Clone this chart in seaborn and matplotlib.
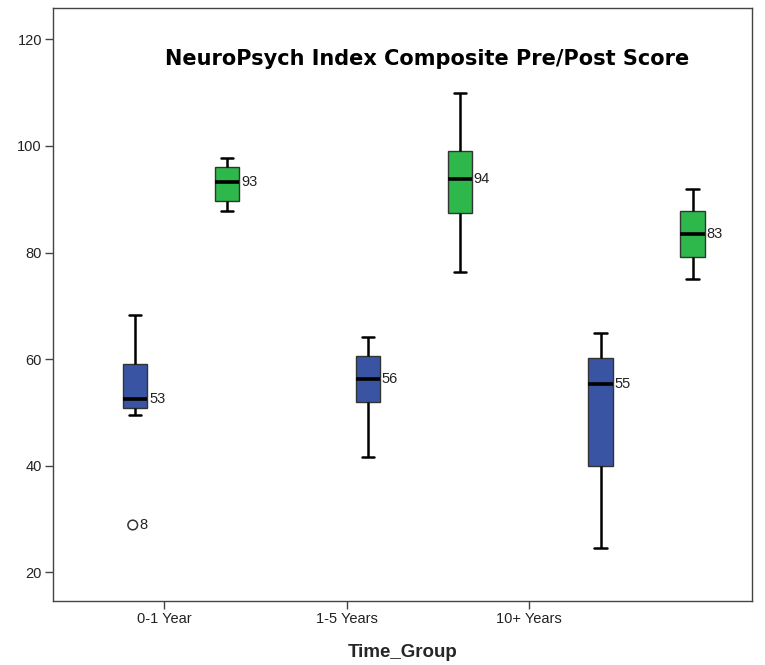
import matplotlib
matplotlib.use("Agg")
import matplotlib.pyplot as plt
import numpy as np
import pandas as pd
import seaborn as sns

# Five-number summaries per time group (whisker low, Q1, median, Q3, whisker high)
groups = ["0-1 Year", "1-5 Years", "10+ Years"]
phases = ["Pre", "Post"]

pre_low = [49.5, 41.7, 24.6]
pre_q1 = [50.8, 52.0, 40.0]
pre_med = [52.6, 56.3, 55.4]
pre_q3 = [59.0, 60.6, 60.2]
pre_high = [68.3, 64.2, 64.9]

post_low = [87.7, 76.3, 75.0]
post_q1 = [89.6, 87.5, 79.2]
post_med = [93.3, 93.8, 83.4]
post_q3 = [96.1, 99.0, 87.7]
post_high = [97.8, 110.0, 92.0]

# Outlying case (case number 8) in the 0-1 Year pre group
outlier_group = "0-1 Year"
outlier_phase = "Pre"
outlier_value = 28.9
outlier_case = "8"

tick_labels = ["0-1 Year", "1-5 Years", "10+ Years"]

rows = []
for i, g in enumerate(groups):
    for phase, arrs in (("Pre", (pre_low, pre_q1, pre_med, pre_q3, pre_high)),
                        ("Post", (post_low, post_q1, post_med, post_q3, post_high))):
        for a in arrs:
            rows.append({"Time_Group": g, "Phase": phase, "Score": a[i]})
df = pd.DataFrame(rows)

sns.set_style("white")
plt.rcParams["font.family"] = ["Liberation Sans", "DejaVu Sans"]

fig = plt.figure(figsize=(7.65, 6.65), dpi=100)
ax = fig.add_axes([0.0693, 0.0967, 0.9137, 0.8908])

palette = {"Pre": "#3A54A4", "Post": "#2EB84B"}
box_width = 0.79
box_gap = 0.734

sns.boxplot(
    data=df, x="Time_Group", y="Score", hue="Phase",
    order=groups, hue_order=phases, palette=palette,
    width=box_width, gap=box_gap, dodge=True,
    linecolor="#333333", linewidth=1.0, saturation=1,
    whiskerprops=dict(color="black", linewidth=1.8),
    capprops=dict(color="black", linewidth=1.8),
    medianprops=dict(color="black", linewidth=2.6),
    showfliers=False, legend=False, ax=ax,
)

# Median value labels beside each box
offset = box_width / 4
half_box = box_width / 2 * (1 - box_gap) / 2
for i, g in enumerate(groups):
    for j, (phase, med) in enumerate((("Pre", pre_med[i]), ("Post", post_med[i]))):
        xpos = i + (2 * j - 1) * offset + half_box
        ax.text(xpos + 0.008, med, f"{med:.0f}", ha="left", va="center",
                fontsize=10.5, color="#222222")

# Outlier marker with its case number
oi = groups.index(outlier_group)
ox = oi + (phases.index(outlier_phase) * 2 - 1) * offset - 0.01
sns.scatterplot(x=[ox], y=[outlier_value], marker="o", s=48,
                facecolor="none", edgecolor="#333333", linewidth=1.1, ax=ax,
                legend=False)
ax.text(ox + 0.03, outlier_value, outlier_case, ha="left", va="center",
        fontsize=10.5, color="#222222")

ax.set_xlim(-0.55, 2.453)
ax.set_ylim(14.7, 125.8)
ax.set_yticks([20, 40, 60, 80, 100, 120])
ax.set_xticks([-0.073, 0.713, 1.495])
ax.set_xticklabels(tick_labels)
ax.tick_params(axis="both", which="major", direction="out", length=6,
               width=1.0, color="#444444", labelsize=10.5, labelcolor="#222222",
               left=True, bottom=True, pad=2)

for side in ["left", "bottom", "top", "right"]:
    ax.spines[side].set_visible(True)
    ax.spines[side].set_color("#444444")
    ax.spines[side].set_linewidth(1.0)

ax.set_ylabel("")
ax.set_xlabel("Time_Group", fontsize=13.5, fontweight="bold", labelpad=13)

ax.text(0.535, 0.914, "NeuroPsych Index Composite Pre/Post Score",
        transform=ax.transAxes, ha="center", va="center",
        fontsize=15, fontweight="bold", family="DejaVu Sans", color="black")

fig.savefig("out.png", dpi=100, facecolor="white")
